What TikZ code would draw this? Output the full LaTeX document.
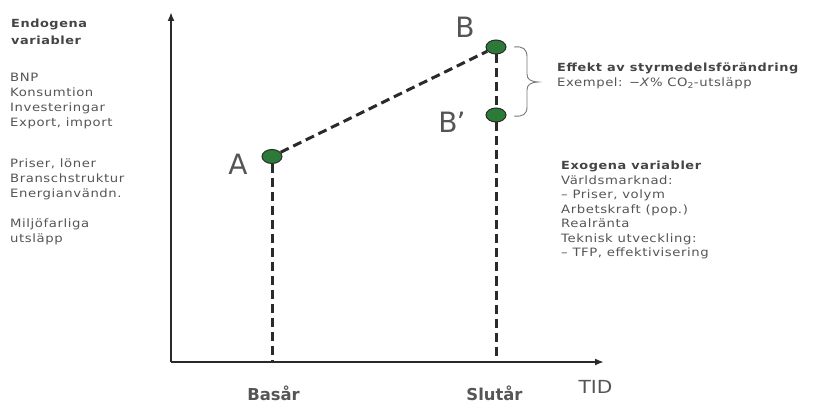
\documentclass[tikz,border=0pt]{standalone}
\usepackage{fontspec}
\setmainfont{DejaVu Sans}
\newfontfamily\uifont[FakeStretch=1.15,LetterSpace=5]{DejaVu Sans}
\newfontfamily\wideui[FakeStretch=1.12]{DejaVu Sans}
\usetikzlibrary{arrows.meta,shapes.geometric}
\definecolor{txt}{HTML}{555555}
\definecolor{ink}{HTML}{2A2A2A}
\definecolor{dotfill}{HTML}{2C7A38}
\tikzset{
  axis/.style={draw=ink,line width=1.8pt,-{Latex[length=9pt,width=7pt]}},
  guide/.style={draw=ink,line width=3pt,dash pattern=on 9pt off 5pt},
  state/.style={ellipse,draw=ink,line width=1pt,fill=dotfill,minimum width=20pt,minimum height=14pt,inner sep=0pt},
  bigletter/.style={text=txt,font=\fontsize{28}{28}\selectfont,anchor=base,inner sep=0pt},
  textline/.style={text=txt,anchor=base west,inner sep=0pt,font=\uifont\fontsize{11.5}{14}\selectfont},
  headline/.style={textline,font=\uifont\bfseries\fontsize{11.2}{14}\selectfont,text=txt!80!black},
  yearlabel/.style={text=txt,font=\bfseries\fontsize{16.4}{16}\selectfont,anchor=base,inner sep=0pt},
  bracepath/.style={draw=txt!80,line width=0.9pt}
}
\begin{document}
\begin{tikzpicture}[x=1pt,y=-1pt]
\useasboundingbox (0,0) rectangle (816,403);

% axes
\coordinate (origin) at (171,362);
\coordinate (ytop) at (171,12);
\coordinate (xend) at (604,362);
\draw[axis] (origin) -- (ytop);
\draw[axis] (origin) -- (xend);

% model states
\node[state] (A) at (272,156.5) {};
\node[state] (B) at (496,47) {};
\node[state] (Bp) at (496,115) {};
\coordinate (Afoot) at (272,362);
\coordinate (Bfoot) at (496,362);

\draw[guide] (A) -- (B);
\draw[guide] (A.south) -- (Afoot);
\draw[guide] (B.south) -- (Bp.north);
\draw[guide] (Bp.south) -- (Bfoot);

\node[bigletter] (lA) at (238,175) {A};
\node[bigletter] (lB) at (465,38) {B};
\node[bigletter] (lBp) at (452,133) {B\kern-1pt’};

% brace spanning the policy effect B -> B'
\coordinate (brtop) at (514,47);
\coordinate (brtip) at (538,82);
\coordinate (brbot) at (514,116);
\draw[bracepath] (brtop) .. controls (523,46) and (527,49) .. (527,57)
  -- (527,74) .. controls (527,79) and (530,81.5) .. (brtip)
  .. controls (530,82.5) and (527,85) .. (527,90)
  -- (527,107) .. controls (527,114) and (523,117) .. (brbot);

% endogenous variables
\node[headline] (endoA) at (11,28) {Endogena};
\node[headline] (endoB) at (11,44.5) {variabler};
\foreach \t [count=\i from 0] in {BNP,Konsumtion,Investeringar,{Export, import}}
  \node[textline] (macro\i) at (10,82+14.7*\i) {\t};
\foreach \t [count=\i from 0] in {{Priser, löner},Branschstruktur,Energianvändn.}
  \node[textline] (sector\i) at (10,168+14.7*\i) {\t};
\foreach \t [count=\i from 0] in {Miljöfarliga,utsläpp}
  \node[textline] (emis\i) at (10,228+14.9*\i) {\t};

% policy effect
\node[headline] (effekt) at (557,72) {Effekt av styrmedelsförändring};
\node[textline] (exempel) at (557,87) {Exempel: −\textit{X}\% CO\textsubscript{2}-utsläpp};

% exogenous variables
\node[headline] (exo) at (561,170) {Exogena variabler};
\foreach \t [count=\i from 1] in {Världsmarknad:,{– Priser, volym},Arbetskraft (pop.),Realränta,Teknisk utveckling:,{– TFP, effektivisering}}
  \node[textline] (exo\i) at (561,170+14.5*\i) {\t};

% time axis labels
\node[yearlabel] (basar) at (273.5,400) {Basår};
\node[yearlabel] (slutar) at (494.5,400) {Slutår};
\node[text=txt,font=\wideui\fontsize{18}{18}\selectfont,anchor=base,inner sep=0pt] (tid) at (595.5,393) {TID};
\end{tikzpicture}
\end{document}
